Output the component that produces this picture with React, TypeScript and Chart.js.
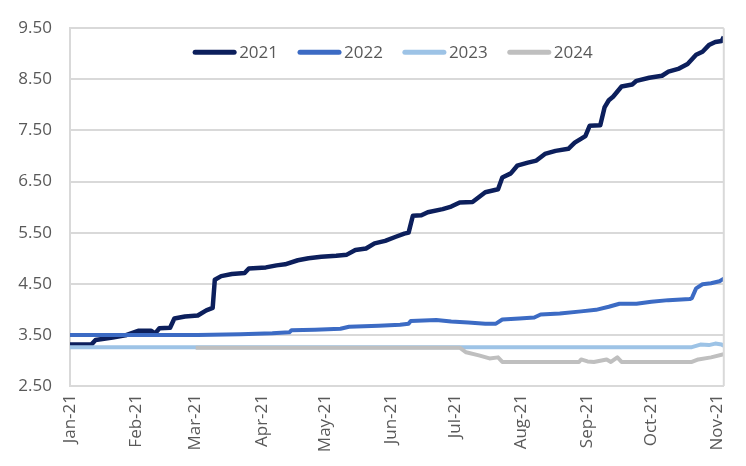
import React, { useEffect, useRef } from "react";
import { Chart, registerables } from "chart.js";

Chart.register(...registerables);

const monthLabels = ["Jan-21", "Feb-21", "Mar-21", "Apr-21", "May-21", "Jun-21", "Jul-21", "Aug-21", "Sep-21", "Oct-21", "Nov-21"];
const monthStartDays = [0, 31, 59, 90, 120, 151, 181, 212, 243, 273, 304];
const yTickValues = [2.5, 3.5, 4.5, 5.5, 6.5, 7.5, 8.5, 9.5];
const seriesNames = ["2021", "2022", "2023", "2024"];
const seriesColors = ["#0c1f5c", "#3c6bc4", "#9dc3e6", "#bfbfbf"];

const days2021 = [0, 10, 12, 20, 26, 32, 38, 40, 42, 47, 49, 54, 60, 64, 67, 68, 71, 76, 82, 84, 92, 97, 101, 107, 112, 118, 125, 130, 134, 139, 143, 148, 153, 157, 159, 161, 165, 168, 175, 179, 183, 189, 195, 201, 203, 207, 210, 215, 219, 223, 228, 234, 237, 242, 244, 249, 251, 253, 255, 259, 264, 266, 272, 278, 281, 286, 290, 294, 297, 300, 303, 306, 307];
const values2021 = [3.31, 3.31, 3.4, 3.45, 3.49, 3.58, 3.58, 3.53, 3.63, 3.64, 3.82, 3.86, 3.88, 3.98, 4.03, 4.58, 4.65, 4.69, 4.71, 4.8, 4.82, 4.86, 4.88, 4.96, 5.0, 5.03, 5.05, 5.07, 5.16, 5.19, 5.29, 5.34, 5.42, 5.48, 5.5, 5.83, 5.84, 5.9, 5.96, 6.01, 6.09, 6.1, 6.29, 6.35, 6.58, 6.66, 6.81, 6.87, 6.91, 7.04, 7.1, 7.14, 7.26, 7.39, 7.59, 7.6, 7.95, 8.09, 8.16, 8.36, 8.4, 8.47, 8.53, 8.57, 8.65, 8.71, 8.8, 8.98, 9.04, 9.17, 9.23, 9.25, 9.33];

const days2022 = [0, 60, 80, 95, 103, 104, 115, 127, 131, 145, 155, 159, 160, 172, 179, 187, 195, 200, 203, 211, 218, 221, 230, 240, 247, 253, 258, 266, 273, 281, 291, 292, 294, 297, 301, 305, 307];
const values2022 = [3.5, 3.5, 3.51, 3.53, 3.55, 3.59, 3.6, 3.62, 3.66, 3.68, 3.7, 3.72, 3.77, 3.79, 3.76, 3.74, 3.72, 3.72, 3.8, 3.82, 3.84, 3.9, 3.92, 3.96, 3.99, 4.05, 4.11, 4.11, 4.15, 4.18, 4.2, 4.22, 4.41, 4.49, 4.51, 4.55, 4.6];

const days2023 = [0, 292, 296, 300, 303, 306, 307];
const values2023 = [3.26, 3.26, 3.31, 3.3, 3.33, 3.31, 3.29];

const days2024 = [59, 183, 186, 192, 197, 201, 203, 239, 240, 243, 246, 252, 254, 257, 259, 292, 295, 301, 307];
const values2024 = [3.25, 3.25, 3.16, 3.1, 3.04, 3.06, 2.97, 2.97, 3.02, 2.98, 2.97, 3.02, 2.97, 3.06, 2.97, 2.97, 3.02, 3.06, 3.12];

const seriesDays = [days2021, days2022, days2023, days2024];
const seriesValues = [values2021, values2022, values2023, values2024];

const FONT = "'Open Sans', sans-serif";
const TEXT_COLOR = "#595959";
const GRID_COLOR = "#d9d9d9";

const legendPlugin = {
  id: "insideLegend",
  afterDraw(chart: any) {
    const { ctx, chartArea } = chart;
    ctx.save();
    ctx.font = `17px ${FONT}`;
    ctx.textBaseline = "middle";
    ctx.textAlign = "left";
    const lineLen = 43;
    const gap = 3;
    const spacing = 20;
    const items = chart.data.datasets.map((d: any) => ({
      label: d.label,
      color: d.borderColor,
      w: ctx.measureText(d.label).width,
    }));
    const total = items.reduce((s: number, it: any) => s + lineLen + gap + it.w, 0) + spacing * (items.length - 1);
    let x = (chartArea.left + chartArea.right) / 2 - 4 - total / 2;
    const y = chartArea.top + 24;
    items.forEach((it: any) => {
      ctx.strokeStyle = it.color;
      ctx.lineWidth = 5;
      ctx.lineCap = "round";
      ctx.beginPath();
      ctx.moveTo(x + 2, y);
      ctx.lineTo(x + lineLen - 2, y);
      ctx.stroke();
      ctx.fillStyle = TEXT_COLOR;
      ctx.fillText(it.label, x + lineLen + gap, y + 1);
      x += lineLen + gap + it.w + spacing;
    });
    // right border of the plot area
    ctx.strokeStyle = GRID_COLOR;
    ctx.lineWidth = 2;
    ctx.lineCap = "butt";
    ctx.beginPath();
    ctx.moveTo(chartArea.right, chartArea.top);
    ctx.lineTo(chartArea.right, chartArea.bottom);
    ctx.stroke();
    ctx.restore();
  },
};

export default function App() {
  const canvasRef = useRef<HTMLCanvasElement | null>(null);

  useEffect(() => {
    document.body.style.margin = "0";
    document.body.style.overflow = "hidden";
    const canvas = canvasRef.current;
    if (!canvas) return;
    const datasets = seriesNames.map((name, i) => ({
      label: name,
      data: seriesDays[i].map((d, j) => ({ x: d, y: seriesValues[i][j] })),
      borderColor: seriesColors[i],
      backgroundColor: seriesColors[i],
      borderWidth: i === 0 ? 4.5 : 4,
      pointRadius: 0,
      tension: 0,
      borderJoinStyle: "round" as const,
      fill: false,
      order: seriesNames.length - i,
    }));
    const chart = new Chart(canvas, {
      type: "line",
      data: { datasets },
      options: {
        animation: false,
        responsive: true,
        maintainAspectRatio: false,
        layout: { padding: { top: 24, right: 20, left: 0, bottom: 0 } },
        plugins: {
          legend: { display: false },
          tooltip: { enabled: false },
        },
        scales: {
          x: {
            type: "linear",
            min: 0,
            max: 307,
            afterBuildTicks: (scale: any) => {
              scale.ticks = monthStartDays.map((v) => ({ value: v }));
            },
            afterFit: (scale: any) => {
              scale.height = 80;
            },
            ticks: {
              autoSkip: false,
              minRotation: 90,
              maxRotation: 90,
              padding: 8,
              color: TEXT_COLOR,
              font: { family: FONT, size: 17 },
              callback: (_v: any, i: number) => monthLabels[i],
            },
            grid: { display: false, drawTicks: false },
            border: { display: true, color: GRID_COLOR, width: 2 },
          },
          y: {
            type: "linear",
            min: 2.5,
            max: 9.5,
            afterBuildTicks: (scale: any) => {
              scale.ticks = yTickValues.map((v) => ({ value: v }));
            },
            afterFit: (scale: any) => {
              scale.width = 70;
            },
            ticks: {
              padding: 18,
              color: TEXT_COLOR,
              font: { family: FONT, size: 17 },
              callback: (v: any) => Number(v).toFixed(2),
            },
            grid: { color: GRID_COLOR, lineWidth: 2, drawTicks: false },
            border: { display: true, color: GRID_COLOR, width: 2 },
          },
        },
      },
      plugins: [legendPlugin],
    });
    return () => chart.destroy();
  }, []);

  return (
    <div style={{ width: 746, height: 466, position: "relative" }}>
      <canvas ref={canvasRef} />
    </div>
  );
}
